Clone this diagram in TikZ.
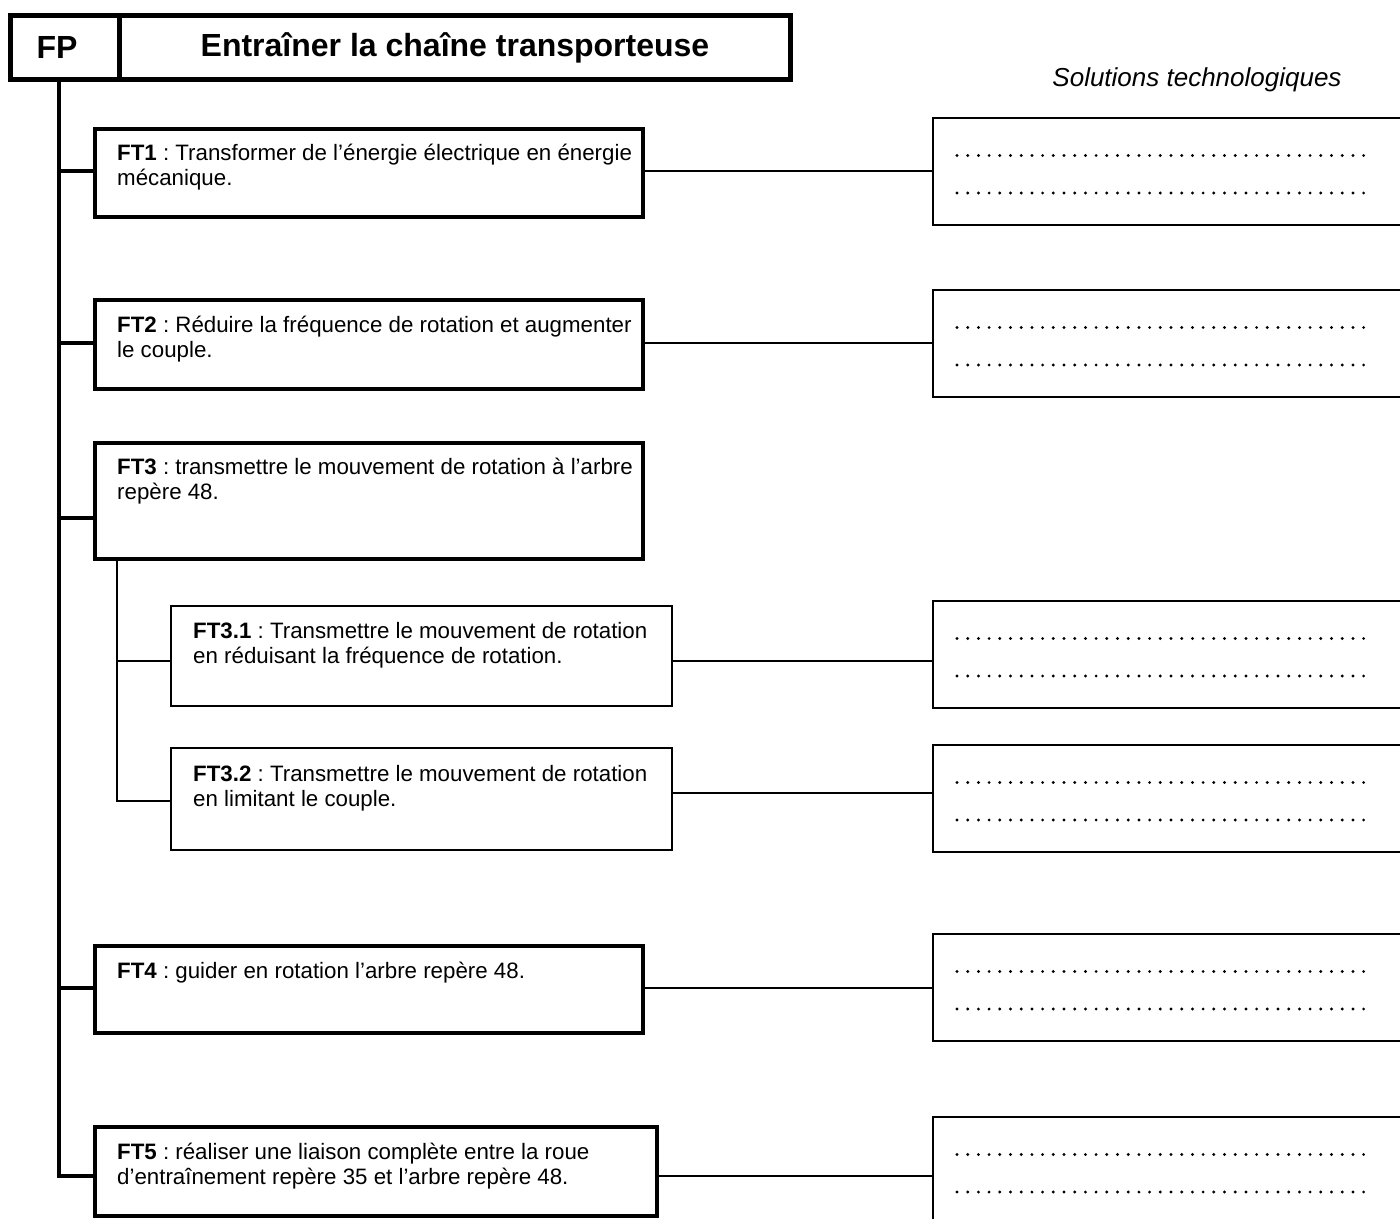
\documentclass[tikz,border=0pt]{standalone}
\usepackage{fontspec}
\setmainfont{Liberation Sans}
\frenchspacing
\begin{document}
\begin{tikzpicture}[x=1pt,y=-1pt,
  headbox/.style={draw, line width=5pt, anchor=north west, inner sep=0pt, minimum height=64pt,
    font=\bfseries\fontsize{32}{36}\selectfont},
  ftbox/.style={draw, line width=4pt, anchor=north west, inner sep=0pt},
  subbox/.style={draw, line width=2pt, anchor=north west, inner sep=0pt},
  solbox/.style={draw, line width=2pt, anchor=north west, inner sep=0pt, minimum width=520pt, minimum height=107pt},
  txt/.style={anchor=north west, inner sep=0pt, align=left, font=\fontsize{22.3}{25}\selectfont},
  trunk/.style={line width=3.5pt},
  branch/.style={line width=3.5pt},
  subtrunk/.style={line width=1.8pt},
  link/.style={line width=1.7pt},
]
\useasboundingbox (0,0) rectangle (1400,1218);
\clip (0,0) rectangle (1400,1218);

% header
\node[headbox, minimum width=109pt] (fp) at (8,13) {\hspace*{-16pt}FP};
\node[headbox, minimum width=671pt] (title) at (117,13) {\raisebox{-1pt}{Entraîner la chaîne transporteuse}};
\node[font=\itshape\fontsize{26}{30}\selectfont, inner sep=0pt] (sol) at (1197,80) {Solutions technologiques};

% function boxes
\node[ftbox, minimum width=548pt, minimum height=88pt] (ft1) at (93,127) {};
\node[txt] (ft1t) at (117,143) {\strut\textbf{FT1} : Transformer de l’énergie électrique en énergie\\mécanique.};

\node[ftbox, minimum width=548pt, minimum height=89pt] (ft2) at (93,298) {};
\node[txt] (ft2t) at (117,315) {\strut\textbf{FT2} : Réduire la fréquence de rotation et augmenter\\le couple.};

\node[ftbox, minimum width=548pt, minimum height=116pt] (ft3) at (93,441) {};
\node[txt] (ft3t) at (117,457) {\strut\textbf{FT3} : transmettre le mouvement de rotation à l’arbre\\repère 48.};

\node[subbox, minimum width=501pt, minimum height=100pt] (ft31) at (170,605) {};
\node[txt] (ft31t) at (193,621) {\strut\textbf{FT3.1} : Transmettre le mouvement de rotation\\en réduisant la fréquence de rotation.};

\node[subbox, minimum width=501pt, minimum height=102pt] (ft32) at (170,747) {};
\node[txt] (ft32t) at (193,763.5) {\strut\textbf{FT3.2} : Transmettre le mouvement de rotation\\en limitant le couple.};

\node[ftbox, minimum width=548pt, minimum height=87pt] (ft4) at (93,944) {};
\node[txt] (ft4t) at (117,961) {\strut\textbf{FT4} : guider en rotation l’arbre repère 48.};

\node[ftbox, minimum width=562pt, minimum height=89pt] (ft5) at (93,1125) {};
\node[txt] (ft5t) at (117,1142) {\strut\textbf{FT5} : réaliser une liaison complète entre la roue\\d’entraînement repère 35 et l’arbre repère 48.};

% solution boxes
\node[solbox] (s1) at (932,117) {};
\node[solbox] (s2) at (932,289) {};
\node[solbox] (s31) at (932,600) {};
\node[solbox] (s32) at (932,744) {};
\node[solbox] (s4) at (932,933) {};
\node[solbox] (s5) at (932,1116) {};

\foreach \s in {s1,s2,s31,s32,s4,s5}{
  \foreach \i in {0,...,38}{
    \fill ([xshift=25pt+\i*10.7pt,yshift=-38.5pt]\s.north west) circle (1.6);
    \fill ([xshift=25pt+\i*10.7pt,yshift=-76pt]\s.north west) circle (1.6);
  }
}

% branch levels
\coordinate (top) at (59,77);
\coordinate (y1) at (0,171);
\coordinate (y2) at (0,343);
\coordinate (y3) at (0,518);
\coordinate (y4) at (0,988);
\coordinate (y5) at (0,1176);
\coordinate (y31) at (0,661);
\coordinate (y32l) at (0,801);
\coordinate (y32r) at (0,793);
\coordinate (sub) at (117,557);

% trunk and branches
\draw[trunk] (top) |- (ft5.west |- y5);
\foreach \b/\y in {ft1/y1,ft2/y2,ft3/y3,ft4/y4}{
  \draw[branch] (top |- \y) -- (\b.west |- \y);
}
\draw[subtrunk] (sub) |- (ft32.west |- y32l);
\draw[subtrunk] (sub |- y31) -- (ft31.west |- y31);

% links to solutions
\draw[link] (ft1.east |- y1) -- (s1.west |- y1);
\draw[link] (ft2.east |- y2) -- (s2.west |- y2);
\draw[link] (ft31.east |- y31) -- (s31.west |- y31);
\draw[link] (ft32.east |- y32r) -- (s32.west |- y32r);
\draw[link] (ft4.east |- y4) -- (s4.west |- y4);
\draw[link] (ft5.east |- y5) -- (s5.west |- y5);
\end{tikzpicture}
\end{document}
